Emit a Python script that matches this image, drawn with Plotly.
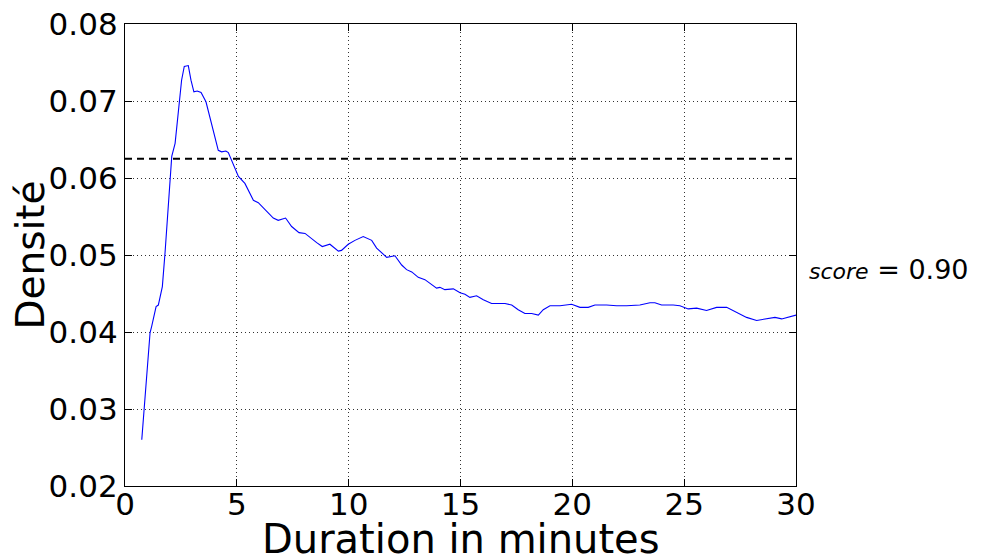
import plotly.graph_objects as go

duration = [0.75, 1.12, 1.19, 1.39, 1.49, 1.67, 1.79, 1.94, 2.09, 2.24, 2.34, 2.53, 2.65, 2.83, 2.95,
            3.08, 3.23, 3.40, 3.62, 3.80, 3.95, 4.17, 4.32, 4.51, 4.62, 4.84, 5.07, 5.36, 5.51, 5.74,
            5.96, 6.21, 6.41, 6.63, 6.85, 7.18, 7.45, 7.78, 8.05, 8.30, 8.57, 8.82, 9.16, 9.54, 9.68,
            9.98, 10.28, 10.65, 11.03, 11.25, 11.70, 12.07, 12.37, 12.59, 12.82, 13.11, 13.41, 13.93,
            14.08, 14.30, 14.68, 14.98, 15.20, 15.42, 15.72, 16.02, 16.39, 16.99, 17.29, 17.58, 17.88,
            18.18, 18.48, 18.70, 19.00, 19.45, 19.97, 20.34, 20.71, 21.01, 21.53, 21.98, 22.43, 23.02,
            23.47, 23.69, 23.99, 24.51, 24.81, 25.18, 25.56, 26.00, 26.45, 26.90, 27.35, 27.79, 28.24,
            28.69, 29.06, 29.36, 29.65, 29.95, 30.0]
density = [0.0260, 0.0399, 0.0407, 0.0433, 0.0435, 0.0459, 0.0503, 0.0563, 0.0628, 0.0645, 0.0671,
           0.0727, 0.0745, 0.0746, 0.0727, 0.0712, 0.0713, 0.0711, 0.0699, 0.0678, 0.0658, 0.0636,
           0.0634, 0.0635, 0.0633, 0.0617, 0.0602, 0.0593, 0.0584, 0.0571, 0.0568, 0.0560, 0.0554,
           0.0548, 0.0545, 0.0548, 0.0537, 0.0529, 0.0528, 0.0522, 0.0516, 0.0511, 0.0514, 0.0505,
           0.0506, 0.0514, 0.0519, 0.0524, 0.0519, 0.0509, 0.0497, 0.0499, 0.0487, 0.0481, 0.0478,
           0.0471, 0.0468, 0.0457, 0.0458, 0.0455, 0.0456, 0.0451, 0.0449, 0.0445, 0.0447, 0.0442,
           0.0437, 0.0437, 0.0435, 0.0429, 0.0424, 0.0424, 0.0422, 0.0429, 0.0434, 0.0434, 0.0436,
           0.0432, 0.0432, 0.0435, 0.0435, 0.0434, 0.0434, 0.0435, 0.0438, 0.0438, 0.0435, 0.0435,
           0.0434, 0.0430, 0.0431, 0.0428, 0.0432, 0.0432, 0.0425, 0.0419, 0.0415, 0.0417, 0.0419,
           0.0417, 0.0419, 0.0421, 0.0422]
reference_level = 0.0625
score = 0.90

x_title = "Duration in minutes"
y_title = "Densité"
x_ticks = [0, 5, 10, 15, 20, 25, 30]
y_ticks = [0.02, 0.03, 0.04, 0.05, 0.06, 0.07, 0.08]

fig = go.Figure()
fig.add_trace(go.Scatter(x=duration, y=density, mode="lines",
                         line=dict(color="#0000ff", width=1.1), showlegend=False))
fig.add_trace(go.Scatter(x=[0, 30], y=[reference_level, reference_level], mode="lines",
                         line=dict(color="black", width=2, dash="7px,5px"), showlegend=False))

axis_common = dict(
    showline=True, linecolor="black", linewidth=1.3, mirror="ticks",
    ticks="inside", ticklen=7, tickcolor="black", tickwidth=1,
    showgrid=True, gridcolor="#333333", gridwidth=1, griddash="1px,3px",
    zeroline=False, automargin=False, ticklabeloverflow="allow",
    tickfont=dict(family="DejaVu Sans", size=31, color="black"),
)

fig.update_xaxes(range=[0, 30], tickvals=x_ticks, ticktext=[str(v) for v in x_ticks],
                 ticklabelstandoff=-9, **axis_common)
fig.update_yaxes(range=[0.02, 0.08], tickvals=y_ticks, ticktext=[f"{v:.2f}" for v in y_ticks],
                 title=dict(text=y_title, font=dict(family="DejaVu Sans", size=39, color="black"),
                            standoff=4),
                 ticklabelstandoff=0, **axis_common)

fig.add_annotation(x=0.5, xref="paper", y=0, yref="paper", xanchor="center", yanchor="middle",
                   yshift=-53, text=x_title, showarrow=False,
                   font=dict(family="DejaVu Sans", size=40, color="black"))

fig.add_annotation(x=1.0, xref="paper", y=0.0481, yref="y", xanchor="left", yanchor="middle",
                   xshift=11,
                   text=(f"<span style='font-size:22px'><i>score</i></span>"
                         f"<span style='font-size:27px'> = {score:.2f}</span>"),
                   showarrow=False,
                   font=dict(family="DejaVu Sans", size=27, color="black"))

# page body adds an 8px offset, so the figure is 8px smaller and margins shifted
fig.update_layout(width=975, height=549, margin=dict(l=117, r=187, t=16, b=71),
                  plot_bgcolor="white", paper_bgcolor="white")

fig.write_html("out.html")
